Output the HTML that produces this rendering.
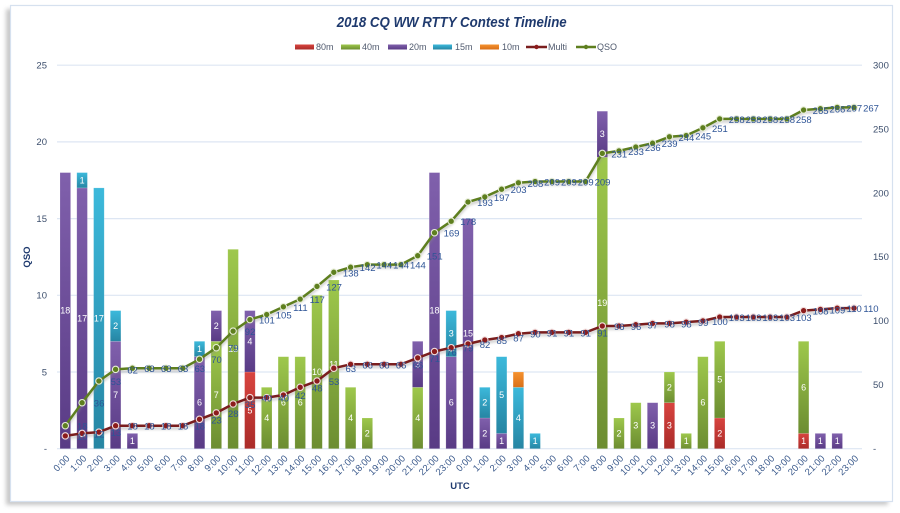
<!DOCTYPE html>
<html><head><meta charset="utf-8"><style>
html,body{margin:0;padding:0;background:#fff;}
svg{display:block;font-family:"Liberation Sans",sans-serif;}
.xl{font-size:9.5px;fill:#3b5a8c;}
.ax{font-size:9.5px;fill:#3c4e6c;}
.bl{font-size:9px;fill:#fff;text-anchor:middle;}
.dl{font-size:9.5px;fill:#2e5496;text-anchor:middle;}
.lg{font-size:9px;fill:#505a6e;}
</style></head><body>
<svg width="900" height="513" viewBox="0 0 900 513" xmlns="http://www.w3.org/2000/svg">
<defs>
<linearGradient id="g80" x1="0" y1="0" x2="0" y2="1"><stop offset="0" stop-color="#d8443f"/><stop offset="1" stop-color="#aa2b29"/></linearGradient>
<linearGradient id="g40" x1="0" y1="0" x2="0" y2="1"><stop offset="0" stop-color="#9ec84c"/><stop offset="1" stop-color="#6c8d31"/></linearGradient>
<linearGradient id="g20" x1="0" y1="0" x2="0" y2="1"><stop offset="0" stop-color="#8060ac"/><stop offset="1" stop-color="#593b85"/></linearGradient>
<linearGradient id="g15" x1="0" y1="0" x2="0" y2="1"><stop offset="0" stop-color="#3cb9db"/><stop offset="1" stop-color="#2685a3"/></linearGradient>
<linearGradient id="g10" x1="0" y1="0" x2="0" y2="1"><stop offset="0" stop-color="#f5922f"/><stop offset="1" stop-color="#d96f18"/></linearGradient>
<filter id="sh" x="-5%" y="-5%" width="110%" height="110%"><feGaussianBlur stdDeviation="2"/></filter>
<filter id="lsh" x="-5%" y="-5%" width="110%" height="120%"><feGaussianBlur stdDeviation="1.2"/></filter>
</defs>
<!-- frame -->
<rect x="6" y="9" width="882" height="496" fill="#9a9a9a" opacity="0.55" filter="url(#sh)"/>
<rect x="10.5" y="5.5" width="882" height="496" fill="#fff" stroke="#d6e1ef" stroke-width="1.2"/>
<!-- title -->
<text x="451.7" y="27" text-anchor="middle" font-size="15" font-weight="bold" font-style="italic" fill="#1f3a6e" textLength="230" lengthAdjust="spacingAndGlyphs">2018 CQ WW RTTY Contest Timeline</text>
<!-- legend -->
<rect x="295" y="44.5" width="19" height="5" fill="url(#g80)"/><text class="lg" x="316" y="50">80m</text>
<rect x="341" y="44.5" width="19" height="5" fill="url(#g40)"/><text class="lg" x="362" y="50">40m</text>
<rect x="388" y="44.5" width="19" height="5" fill="url(#g20)"/><text class="lg" x="409" y="50">20m</text>
<rect x="433" y="44.5" width="19" height="5" fill="url(#g15)"/><text class="lg" x="455" y="50">15m</text>
<rect x="480" y="44.5" width="19" height="5" fill="url(#g10)"/><text class="lg" x="502" y="50">10m</text>
<line x1="526" y1="47" x2="547" y2="47" stroke="#7a1e1e" stroke-width="2.5"/><circle cx="536.5" cy="47" r="2.2" fill="#8c1c1c"/><text class="lg" x="548" y="50">Multi</text>
<line x1="576" y1="47" x2="596" y2="47" stroke="#5e7f1f" stroke-width="2.5"/><circle cx="586" cy="47" r="2.2" fill="#5e7f1f"/><text class="lg" x="597" y="50">QSO</text>
<!-- gridlines -->
<g stroke="#dde6f3" stroke-width="1.2">
<line x1="57" y1="65.2" x2="862" y2="65.2"/>
<line x1="57" y1="141.9" x2="862" y2="141.9"/>
<line x1="57" y1="218.6" x2="862" y2="218.6"/>
<line x1="57" y1="295.3" x2="862" y2="295.3"/>
<line x1="57" y1="372" x2="862" y2="372"/>
<line x1="57" y1="448.7" x2="862" y2="448.7"/>
</g>
<!-- left axis labels -->
<g class="ax" text-anchor="end">
<text x="47" y="68.5">25</text><text x="47" y="145.2">20</text><text x="47" y="221.9">15</text><text x="47" y="298.6">10</text><text x="47" y="375.3">5</text><text x="47" y="452">-</text>
</g>
<g class="ax">
<text x="873" y="68.5">300</text><text x="873" y="132.4">250</text><text x="873" y="196.3">200</text><text x="873" y="260.2">150</text><text x="873" y="324.1">100</text><text x="873" y="388">50</text><text x="873" y="452">-</text>
</g>
<text x="30" y="257" transform="rotate(-90 30 257)" text-anchor="middle" font-size="9.5" font-weight="bold" fill="#1f3a6e">QSO</text>
<text x="460" y="489" text-anchor="middle" font-size="9.5" font-weight="bold" fill="#1f3a6e">UTC</text>
<!-- bars -->
<g stroke-width="0.6" stroke="#ffffff" stroke-opacity="0.25">
<rect x="60.0" y="172.6" width="10.6" height="276.1" fill="url(#g20)"/>
<rect x="76.8" y="187.9" width="10.6" height="260.8" fill="url(#g20)"/>
<rect x="76.8" y="172.6" width="10.6" height="15.3" fill="url(#g15)"/>
<rect x="93.6" y="187.9" width="10.6" height="260.8" fill="url(#g15)"/>
<rect x="110.3" y="341.3" width="10.6" height="107.4" fill="url(#g20)"/>
<rect x="110.3" y="310.6" width="10.6" height="30.7" fill="url(#g15)"/>
<rect x="127.1" y="433.4" width="10.6" height="15.3" fill="url(#g20)"/>
<rect x="194.2" y="356.7" width="10.6" height="92.0" fill="url(#g20)"/>
<rect x="194.2" y="341.3" width="10.6" height="15.4" fill="url(#g15)"/>
<rect x="211.0" y="341.3" width="10.6" height="107.4" fill="url(#g40)"/>
<rect x="211.0" y="310.6" width="10.6" height="30.7" fill="url(#g20)"/>
<rect x="227.8" y="249.3" width="10.6" height="199.4" fill="url(#g40)"/>
<rect x="244.6" y="372.0" width="10.6" height="76.7" fill="url(#g80)"/>
<rect x="244.6" y="310.6" width="10.6" height="61.4" fill="url(#g20)"/>
<rect x="261.4" y="387.3" width="10.6" height="61.4" fill="url(#g40)"/>
<rect x="278.1" y="356.7" width="10.6" height="92.0" fill="url(#g40)"/>
<rect x="294.9" y="356.7" width="10.6" height="92.0" fill="url(#g40)"/>
<rect x="311.7" y="295.3" width="10.6" height="153.4" fill="url(#g40)"/>
<rect x="328.5" y="280.0" width="10.6" height="168.7" fill="url(#g40)"/>
<rect x="345.3" y="387.3" width="10.6" height="61.4" fill="url(#g40)"/>
<rect x="362.0" y="418.0" width="10.6" height="30.7" fill="url(#g40)"/>
<rect x="412.4" y="387.3" width="10.6" height="61.4" fill="url(#g40)"/>
<rect x="412.4" y="341.3" width="10.6" height="46.0" fill="url(#g20)"/>
<rect x="429.2" y="172.6" width="10.6" height="276.1" fill="url(#g20)"/>
<rect x="445.9" y="356.7" width="10.6" height="92.0" fill="url(#g20)"/>
<rect x="445.9" y="310.6" width="10.6" height="46.1" fill="url(#g15)"/>
<rect x="462.7" y="218.6" width="10.6" height="230.1" fill="url(#g20)"/>
<rect x="479.5" y="418.0" width="10.6" height="30.7" fill="url(#g20)"/>
<rect x="479.5" y="387.3" width="10.6" height="30.7" fill="url(#g15)"/>
<rect x="496.3" y="433.4" width="10.6" height="15.3" fill="url(#g20)"/>
<rect x="496.3" y="356.7" width="10.6" height="76.7" fill="url(#g15)"/>
<rect x="513.1" y="387.3" width="10.6" height="61.4" fill="url(#g15)"/>
<rect x="513.1" y="372.0" width="10.6" height="15.3" fill="url(#g10)"/>
<rect x="529.8" y="433.4" width="10.6" height="15.3" fill="url(#g15)"/>
<rect x="597.0" y="157.2" width="10.6" height="291.5" fill="url(#g40)"/>
<rect x="597.0" y="111.2" width="10.6" height="46.0" fill="url(#g20)"/>
<rect x="613.7" y="418.0" width="10.6" height="30.7" fill="url(#g40)"/>
<rect x="630.5" y="402.7" width="10.6" height="46.0" fill="url(#g40)"/>
<rect x="647.3" y="402.7" width="10.6" height="46.0" fill="url(#g20)"/>
<rect x="664.1" y="402.7" width="10.6" height="46.0" fill="url(#g80)"/>
<rect x="664.1" y="372.0" width="10.6" height="30.7" fill="url(#g40)"/>
<rect x="680.9" y="433.4" width="10.6" height="15.3" fill="url(#g40)"/>
<rect x="697.6" y="356.7" width="10.6" height="92.0" fill="url(#g40)"/>
<rect x="714.4" y="418.0" width="10.6" height="30.7" fill="url(#g80)"/>
<rect x="714.4" y="341.3" width="10.6" height="76.7" fill="url(#g40)"/>
<rect x="798.3" y="433.4" width="10.6" height="15.3" fill="url(#g80)"/>
<rect x="798.3" y="341.3" width="10.6" height="92.1" fill="url(#g40)"/>
<rect x="815.1" y="433.4" width="10.6" height="15.3" fill="url(#g20)"/>
<rect x="831.9" y="433.4" width="10.6" height="15.3" fill="url(#g20)"/>
</g>
<!-- bar labels -->
<g class="bl">
<text x="65.3" y="313.6">18</text>
<text x="82.1" y="321.3">17</text><text x="82.1" y="183.3">1</text>
<text x="98.9" y="321.3">17</text>
<text x="115.6" y="398">7</text><text x="115.6" y="329">2</text>
<text x="132.4" y="444">1</text>
<text x="199.5" y="405.7">6</text><text x="199.5" y="352">1</text>
<text x="216.3" y="398">7</text><text x="216.3" y="329">2</text>
<text x="233.1" y="352">13</text>
<text x="249.9" y="413.4">5</text><text x="249.9" y="344.3">4</text>
<text x="266.7" y="421">4</text>
<text x="283.4" y="405.7">6</text>
<text x="300.2" y="405.7">6</text>
<text x="317.0" y="375">10</text>
<text x="333.8" y="367.3">11</text>
<text x="350.6" y="421">4</text>
<text x="367.3" y="436.4">2</text>
<text x="417.7" y="421">4</text><text x="417.7" y="367.3">3</text>
<text x="434.5" y="313.6">18</text>
<text x="451.2" y="405.7">6</text><text x="451.2" y="336.7">3</text>
<text x="468.0" y="336.7">15</text>
<text x="484.8" y="436.4">2</text><text x="484.8" y="405.7">2</text>
<text x="501.6" y="444">1</text><text x="501.6" y="398">5</text>
<text x="518.4" y="421">4</text>
<text x="535.1" y="444">1</text>
<text x="602.3" y="306">19</text><text x="602.3" y="137.2">3</text>
<text x="619.0" y="436.4">2</text>
<text x="635.8" y="428.7">3</text>
<text x="652.6" y="428.7">3</text>
<text x="669.4" y="428.7">3</text><text x="669.4" y="390.3">2</text>
<text x="686.2" y="444">1</text>
<text x="702.9" y="405.7">6</text>
<text x="719.7" y="436.4">2</text><text x="719.7" y="382.7">5</text>
<text x="803.6" y="444">1</text><text x="803.6" y="390.3">6</text>
<text x="820.4" y="444">1</text>
<text x="837.2" y="444">1</text>
</g>
<!-- line shadows -->
<g fill="none" stroke="#8a8a8a" stroke-width="2.5" opacity="0.45" filter="url(#lsh)" transform="translate(0,2.5)">
<polyline points="65.3,425.7 82.1,402.7 98.9,381.0 115.6,369.4 132.4,368.2 149.2,368.2 166.0,368.2 182.8,368.2 199.5,359.2 216.3,347.7 233.1,331.1 249.9,319.6 266.7,314.5 283.4,306.8 300.2,299.1 317.0,286.4 333.8,272.3 350.6,267.2 367.3,264.6 384.1,264.6 400.9,264.6 417.7,255.7 434.5,232.7 451.2,221.2 468.0,202.0 484.8,196.9 501.6,189.2 518.4,182.8 535.1,181.5 551.9,181.5 568.7,181.5 585.5,181.5 602.3,153.4 619.0,150.9 635.8,147.0 652.6,143.2 669.4,136.8 686.2,135.5 702.9,127.8 719.7,118.9 736.5,118.9 753.3,118.9 770.1,118.9 786.8,118.9 803.6,110.0 820.4,108.7 837.2,107.4 854.0,107.4"/>
<polyline points="65.3,435.9 82.1,433.4 98.9,432.1 115.6,425.7 132.4,425.7 149.2,425.7 166.0,425.7 182.8,425.7 199.5,419.3 216.3,412.9 233.1,404.0 249.9,397.6 266.7,397.6 283.4,395.0 300.2,387.3 317.0,381.0 333.8,368.2 350.6,364.3 367.3,364.3 384.1,364.3 400.9,364.3 417.7,357.9 434.5,351.5 451.2,347.7 468.0,343.9 484.8,340.0 501.6,337.5 518.4,333.7 535.1,332.4 551.9,332.4 568.7,332.4 585.5,332.4 602.3,326.0 619.0,326.0 635.8,324.7 652.6,323.4 669.4,323.4 686.2,322.1 702.9,320.9 719.7,317.0 736.5,317.0 753.3,317.0 770.1,317.0 786.8,317.0 803.6,310.6 820.4,309.4 837.2,308.1 854.0,308.1"/>
</g>
<!-- Multi line -->
<polyline fill="none" stroke="#7a1e1e" stroke-width="2.5" stroke-linejoin="round" points="65.3,435.9 82.1,433.4 98.9,432.1 115.6,425.7 132.4,425.7 149.2,425.7 166.0,425.7 182.8,425.7 199.5,419.3 216.3,412.9 233.1,404.0 249.9,397.6 266.7,397.6 283.4,395.0 300.2,387.3 317.0,381.0 333.8,368.2 350.6,364.3 367.3,364.3 384.1,364.3 400.9,364.3 417.7,357.9 434.5,351.5 451.2,347.7 468.0,343.9 484.8,340.0 501.6,337.5 518.4,333.7 535.1,332.4 551.9,332.4 568.7,332.4 585.5,332.4 602.3,326.0 619.0,326.0 635.8,324.7 652.6,323.4 669.4,323.4 686.2,322.1 702.9,320.9 719.7,317.0 736.5,317.0 753.3,317.0 770.1,317.0 786.8,317.0 803.6,310.6 820.4,309.4 837.2,308.1 854.0,308.1"/>
<g fill="#8c1c1c" stroke="#f0dcdc" stroke-width="1.1">
<circle cx="65.3" cy="435.9" r="3.2"/><circle cx="82.1" cy="433.4" r="3.2"/><circle cx="98.9" cy="432.1" r="3.2"/><circle cx="115.6" cy="425.7" r="3.2"/><circle cx="132.4" cy="425.7" r="3.2"/><circle cx="149.2" cy="425.7" r="3.2"/><circle cx="166.0" cy="425.7" r="3.2"/><circle cx="182.8" cy="425.7" r="3.2"/><circle cx="199.5" cy="419.3" r="3.2"/><circle cx="216.3" cy="412.9" r="3.2"/><circle cx="233.1" cy="404.0" r="3.2"/><circle cx="249.9" cy="397.6" r="3.2"/><circle cx="266.7" cy="397.6" r="3.2"/><circle cx="283.4" cy="395.0" r="3.2"/><circle cx="300.2" cy="387.3" r="3.2"/><circle cx="317.0" cy="381.0" r="3.2"/><circle cx="333.8" cy="368.2" r="3.2"/><circle cx="350.6" cy="364.3" r="3.2"/><circle cx="367.3" cy="364.3" r="3.2"/><circle cx="384.1" cy="364.3" r="3.2"/><circle cx="400.9" cy="364.3" r="3.2"/><circle cx="417.7" cy="357.9" r="3.2"/><circle cx="434.5" cy="351.5" r="3.2"/><circle cx="451.2" cy="347.7" r="3.2"/><circle cx="468.0" cy="343.9" r="3.2"/><circle cx="484.8" cy="340.0" r="3.2"/><circle cx="501.6" cy="337.5" r="3.2"/><circle cx="518.4" cy="333.7" r="3.2"/><circle cx="535.1" cy="332.4" r="3.2"/><circle cx="551.9" cy="332.4" r="3.2"/><circle cx="568.7" cy="332.4" r="3.2"/><circle cx="585.5" cy="332.4" r="3.2"/><circle cx="602.3" cy="326.0" r="3.2"/><circle cx="619.0" cy="326.0" r="3.2"/><circle cx="635.8" cy="324.7" r="3.2"/><circle cx="652.6" cy="323.4" r="3.2"/><circle cx="669.4" cy="323.4" r="3.2"/><circle cx="686.2" cy="322.1" r="3.2"/><circle cx="702.9" cy="320.9" r="3.2"/><circle cx="719.7" cy="317.0" r="3.2"/><circle cx="736.5" cy="317.0" r="3.2"/><circle cx="753.3" cy="317.0" r="3.2"/><circle cx="770.1" cy="317.0" r="3.2"/><circle cx="786.8" cy="317.0" r="3.2"/><circle cx="803.6" cy="310.6" r="3.2"/><circle cx="820.4" cy="309.4" r="3.2"/><circle cx="837.2" cy="308.1" r="3.2"/><circle cx="854.0" cy="308.1" r="3.2"/>
</g>
<!-- QSO line -->
<polyline fill="none" stroke="#5e7f1f" stroke-width="2.5" stroke-linejoin="round" points="65.3,425.7 82.1,402.7 98.9,381.0 115.6,369.4 132.4,368.2 149.2,368.2 166.0,368.2 182.8,368.2 199.5,359.2 216.3,347.7 233.1,331.1 249.9,319.6 266.7,314.5 283.4,306.8 300.2,299.1 317.0,286.4 333.8,272.3 350.6,267.2 367.3,264.6 384.1,264.6 400.9,264.6 417.7,255.7 434.5,232.7 451.2,221.2 468.0,202.0 484.8,196.9 501.6,189.2 518.4,182.8 535.1,181.5 551.9,181.5 568.7,181.5 585.5,181.5 602.3,153.4 619.0,150.9 635.8,147.0 652.6,143.2 669.4,136.8 686.2,135.5 702.9,127.8 719.7,118.9 736.5,118.9 753.3,118.9 770.1,118.9 786.8,118.9 803.6,110.0 820.4,108.7 837.2,107.4 854.0,107.4"/>
<g fill="#5e7f1f" stroke="#e6ecd6" stroke-width="1.1">
<circle cx="65.3" cy="425.7" r="3.2"/><circle cx="82.1" cy="402.7" r="3.2"/><circle cx="98.9" cy="381.0" r="3.2"/><circle cx="115.6" cy="369.4" r="3.2"/><circle cx="132.4" cy="368.2" r="3.2"/><circle cx="149.2" cy="368.2" r="3.2"/><circle cx="166.0" cy="368.2" r="3.2"/><circle cx="182.8" cy="368.2" r="3.2"/><circle cx="199.5" cy="359.2" r="3.2"/><circle cx="216.3" cy="347.7" r="3.2"/><circle cx="233.1" cy="331.1" r="3.2"/><circle cx="249.9" cy="319.6" r="3.2"/><circle cx="266.7" cy="314.5" r="3.2"/><circle cx="283.4" cy="306.8" r="3.2"/><circle cx="300.2" cy="299.1" r="3.2"/><circle cx="317.0" cy="286.4" r="3.2"/><circle cx="333.8" cy="272.3" r="3.2"/><circle cx="350.6" cy="267.2" r="3.2"/><circle cx="367.3" cy="264.6" r="3.2"/><circle cx="384.1" cy="264.6" r="3.2"/><circle cx="400.9" cy="264.6" r="3.2"/><circle cx="417.7" cy="255.7" r="3.2"/><circle cx="434.5" cy="232.7" r="3.2"/><circle cx="451.2" cy="221.2" r="3.2"/><circle cx="468.0" cy="202.0" r="3.2"/><circle cx="484.8" cy="196.9" r="3.2"/><circle cx="501.6" cy="189.2" r="3.2"/><circle cx="518.4" cy="182.8" r="3.2"/><circle cx="535.1" cy="181.5" r="3.2"/><circle cx="551.9" cy="181.5" r="3.2"/><circle cx="568.7" cy="181.5" r="3.2"/><circle cx="585.5" cy="181.5" r="3.2"/><circle cx="602.3" cy="153.4" r="3.2"/><circle cx="619.0" cy="150.9" r="3.2"/><circle cx="635.8" cy="147.0" r="3.2"/><circle cx="652.6" cy="143.2" r="3.2"/><circle cx="669.4" cy="136.8" r="3.2"/><circle cx="686.2" cy="135.5" r="3.2"/><circle cx="702.9" cy="127.8" r="3.2"/><circle cx="719.7" cy="118.9" r="3.2"/><circle cx="736.5" cy="118.9" r="3.2"/><circle cx="753.3" cy="118.9" r="3.2"/><circle cx="770.1" cy="118.9" r="3.2"/><circle cx="786.8" cy="118.9" r="3.2"/><circle cx="803.6" cy="110.0" r="3.2"/><circle cx="820.4" cy="108.7" r="3.2"/><circle cx="837.2" cy="107.4" r="3.2"/><circle cx="854.0" cy="107.4" r="3.2"/>
</g>
<!-- QSO data labels -->
<g class="dl">
<text x="82.3" y="429.7">18</text><text x="99.1" y="406.7">36</text><text x="115.9" y="385.0">53</text><text x="132.6" y="373.4">62</text><text x="149.4" y="372.2">63</text><text x="166.2" y="372.2">63</text><text x="183.0" y="372.2">63</text><text x="199.8" y="372.2">63</text><text x="216.5" y="363.2">70</text><text x="233.3" y="351.7">79</text><text x="250.1" y="335.1">92</text><text x="266.9" y="323.6">101</text><text x="283.7" y="318.5">105</text><text x="300.4" y="310.8">111</text><text x="317.2" y="303.1">117</text><text x="334.0" y="290.4">127</text><text x="350.8" y="276.3">138</text><text x="367.6" y="271.2">142</text><text x="384.3" y="268.6">144</text><text x="401.1" y="268.6">144</text><text x="417.9" y="268.6">144</text><text x="434.7" y="259.7">151</text><text x="451.5" y="236.7">169</text><text x="468.2" y="225.2">178</text><text x="485.0" y="206.0">193</text><text x="501.8" y="200.9">197</text><text x="518.6" y="193.2">203</text><text x="535.4" y="186.8">208</text><text x="552.1" y="185.5">209</text><text x="568.9" y="185.5">209</text><text x="585.7" y="185.5">209</text><text x="602.5" y="185.5">209</text><text x="619.3" y="157.4">231</text><text x="636.0" y="154.9">233</text><text x="652.8" y="151.0">236</text><text x="669.6" y="147.2">239</text><text x="686.4" y="140.8">244</text><text x="703.2" y="139.5">245</text><text x="719.9" y="131.8">251</text><text x="736.7" y="122.9">258</text><text x="753.5" y="122.9">258</text><text x="770.3" y="122.9">258</text><text x="787.1" y="122.9">258</text><text x="803.8" y="122.9">258</text><text x="820.6" y="114.0">265</text><text x="837.4" y="112.7">266</text><text x="854.2" y="111.4">267</text><text x="871.0" y="111.4">267</text>
</g>
<!-- Multi data labels -->
<g class="dl">
<text x="82.3" y="439.9">10</text><text x="99.1" y="437.4">12</text><text x="115.9" y="436.1">13</text><text x="132.6" y="429.7">18</text><text x="149.4" y="429.7">18</text><text x="166.2" y="429.7">18</text><text x="183.0" y="429.7">18</text><text x="199.8" y="429.7">18</text><text x="216.5" y="423.3">23</text><text x="233.3" y="416.9">28</text><text x="250.1" y="408.0">35</text><text x="266.9" y="401.6">40</text><text x="283.7" y="401.6">40</text><text x="300.4" y="399.0">42</text><text x="317.2" y="391.3">48</text><text x="334.0" y="385.0">53</text><text x="350.8" y="372.2">63</text><text x="367.6" y="368.3">66</text><text x="384.3" y="368.3">66</text><text x="401.1" y="368.3">66</text><text x="417.9" y="368.3">66</text><text x="434.7" y="361.9">71</text><text x="451.5" y="355.5">76</text><text x="468.2" y="351.7">79</text><text x="485.0" y="347.9">82</text><text x="501.8" y="344.0">85</text><text x="518.6" y="341.5">87</text><text x="535.4" y="337.7">90</text><text x="552.1" y="336.4">91</text><text x="568.9" y="336.4">91</text><text x="585.7" y="336.4">91</text><text x="602.5" y="336.4">91</text><text x="619.3" y="330.0">96</text><text x="636.0" y="330.0">96</text><text x="652.8" y="328.7">97</text><text x="669.6" y="327.4">98</text><text x="686.4" y="327.4">98</text><text x="703.2" y="326.1">99</text><text x="719.9" y="324.9">100</text><text x="736.7" y="321.0">103</text><text x="753.5" y="321.0">103</text><text x="770.3" y="321.0">103</text><text x="787.1" y="321.0">103</text><text x="803.8" y="321.0">103</text><text x="820.6" y="314.6">108</text><text x="837.4" y="313.4">109</text><text x="854.2" y="312.1">110</text><text x="871.0" y="312.1">110</text>
</g>
<!-- x labels -->
<g class="xl" text-anchor="end">
<text transform="translate(70.3,459) rotate(-45)">0:00</text>
<text transform="translate(87.1,459) rotate(-45)">1:00</text>
<text transform="translate(103.9,459) rotate(-45)">2:00</text>
<text transform="translate(120.6,459) rotate(-45)">3:00</text>
<text transform="translate(137.4,459) rotate(-45)">4:00</text>
<text transform="translate(154.2,459) rotate(-45)">5:00</text>
<text transform="translate(171.0,459) rotate(-45)">6:00</text>
<text transform="translate(187.8,459) rotate(-45)">7:00</text>
<text transform="translate(204.5,459) rotate(-45)">8:00</text>
<text transform="translate(221.3,459) rotate(-45)">9:00</text>
<text transform="translate(238.1,459) rotate(-45)">10:00</text>
<text transform="translate(254.9,459) rotate(-45)">11:00</text>
<text transform="translate(271.7,459) rotate(-45)">12:00</text>
<text transform="translate(288.4,459) rotate(-45)">13:00</text>
<text transform="translate(305.2,459) rotate(-45)">14:00</text>
<text transform="translate(322.0,459) rotate(-45)">15:00</text>
<text transform="translate(338.8,459) rotate(-45)">16:00</text>
<text transform="translate(355.6,459) rotate(-45)">17:00</text>
<text transform="translate(372.3,459) rotate(-45)">18:00</text>
<text transform="translate(389.1,459) rotate(-45)">19:00</text>
<text transform="translate(405.9,459) rotate(-45)">20:00</text>
<text transform="translate(422.7,459) rotate(-45)">21:00</text>
<text transform="translate(439.5,459) rotate(-45)">22:00</text>
<text transform="translate(456.2,459) rotate(-45)">23:00</text>
<text transform="translate(473.0,459) rotate(-45)">0:00</text>
<text transform="translate(489.8,459) rotate(-45)">1:00</text>
<text transform="translate(506.6,459) rotate(-45)">2:00</text>
<text transform="translate(523.4,459) rotate(-45)">3:00</text>
<text transform="translate(540.1,459) rotate(-45)">4:00</text>
<text transform="translate(556.9,459) rotate(-45)">5:00</text>
<text transform="translate(573.7,459) rotate(-45)">6:00</text>
<text transform="translate(590.5,459) rotate(-45)">7:00</text>
<text transform="translate(607.3,459) rotate(-45)">8:00</text>
<text transform="translate(624.0,459) rotate(-45)">9:00</text>
<text transform="translate(640.8,459) rotate(-45)">10:00</text>
<text transform="translate(657.6,459) rotate(-45)">11:00</text>
<text transform="translate(674.4,459) rotate(-45)">12:00</text>
<text transform="translate(691.2,459) rotate(-45)">13:00</text>
<text transform="translate(707.9,459) rotate(-45)">14:00</text>
<text transform="translate(724.7,459) rotate(-45)">15:00</text>
<text transform="translate(741.5,459) rotate(-45)">16:00</text>
<text transform="translate(758.3,459) rotate(-45)">17:00</text>
<text transform="translate(775.1,459) rotate(-45)">18:00</text>
<text transform="translate(791.8,459) rotate(-45)">19:00</text>
<text transform="translate(808.6,459) rotate(-45)">20:00</text>
<text transform="translate(825.4,459) rotate(-45)">21:00</text>
<text transform="translate(842.2,459) rotate(-45)">22:00</text>
<text transform="translate(859.0,459) rotate(-45)">23:00</text>
</g>
</svg>
</body></html>
